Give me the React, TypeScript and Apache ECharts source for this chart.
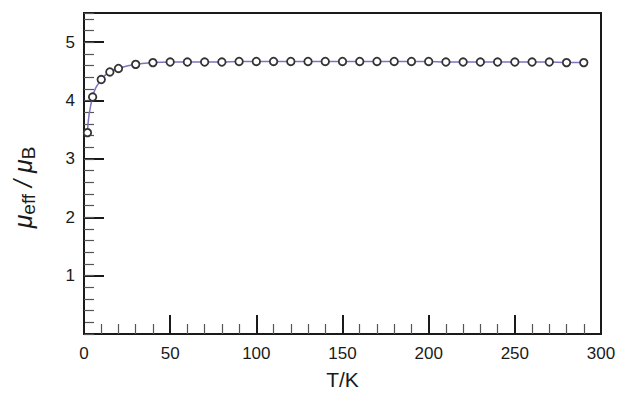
import React, { useEffect, useRef } from "react";
import * as echarts from "echarts";

const temps = [2, 5, 10, 15, 20, 30, 40, 50, 60, 70, 80, 90, 100, 110, 120, 130, 140, 150, 160, 170, 180, 190, 200, 210, 220, 230, 240, 250, 260, 270, 280, 290];
const muEff = [3.45, 4.06, 4.36, 4.49, 4.55, 4.62, 4.65, 4.66, 4.66, 4.66, 4.66, 4.67, 4.67, 4.67, 4.67, 4.67, 4.67, 4.67, 4.67, 4.67, 4.67, 4.67, 4.67, 4.66, 4.66, 4.66, 4.66, 4.66, 4.66, 4.66, 4.65, 4.65];
const yLabels = [1, 2, 3, 4, 5];

const FONT = "Liberation Sans, Arial, Helvetica, sans-serif";

export default function App() {
  const ref = useRef<HTMLDivElement>(null);
  useEffect(() => {
    if (!ref.current) return;
    const chart = echarts.init(ref.current, undefined, { renderer: "svg" });
    const data = temps.map((t, i) => [t, muEff[i]]);
    chart.setOption({
      animation: false,
      backgroundColor: "#fff",
      grid: {
        left: 83,
        right: 19,
        top: 13,
        bottom: 61,
        show: true,
        borderColor: "#1a1a1a",
        borderWidth: 2,
        backgroundColor: "transparent",
      },
      xAxis: {
        type: "value",
        min: 0,
        max: 300,
        interval: 50,
        name: "T/K",
        nameLocation: "middle",
        nameGap: 35,
        nameTextStyle: { fontSize: 21, color: "#1a1a1a", fontFamily: FONT },
        axisLine: { show: true, lineStyle: { color: "#1a1a1a", width: 2 } },
        axisTick: { show: true, inside: true, length: 19, lineStyle: { color: "#1a1a1a", width: 2 } },
        minorTick: { show: true, splitNumber: 5, length: 10, lineStyle: { color: "#555", width: 1.2 } },
        axisLabel: { fontSize: 17, color: "#1a1a1a", fontFamily: FONT, margin: 11 },
        splitLine: { show: false },
      },
      yAxis: [
        {
          type: "value",
          min: 0,
          max: 5.5,
          interval: 1,
          name: "{mu|μ}{sub|eff}{mu| / μ}{sub|B}",
          nameLocation: "middle",
          nameRotate: 90,
          nameGap: 46,
          nameTextStyle: {
            color: "#1a1a1a",
            fontFamily: FONT,
            padding: [0, 28, 0, 0],
            rich: {
              mu: { fontSize: 25, fontStyle: "italic", fontFamily: FONT, color: "#1a1a1a", lineHeight: 30 },
              sub: { fontSize: 19, fontFamily: FONT, color: "#1a1a1a", verticalAlign: "bottom", lineHeight: 30, padding: [11, 0, 0, 0] },
            },
          },
          axisLine: { show: true, lineStyle: { color: "#1a1a1a", width: 2 } },
          axisTick: { show: true, inside: true, length: 20, lineStyle: { color: "#1a1a1a", width: 2 } },
          axisLabel: {
            fontSize: 17,
            color: "#1a1a1a",
            fontFamily: FONT,
            margin: 9,
            formatter: (v: number) => (yLabels.indexOf(v) >= 0 ? String(v) : ""),
          },
          splitLine: { show: false },
        },
        {
          type: "value",
          position: "left",
          min: 0,
          max: 5.5,
          interval: 0.2,
          axisLine: { show: false },
          axisTick: { show: true, inside: true, length: 10, lineStyle: { color: "#555", width: 1.2 } },
          axisLabel: { show: false },
          splitLine: { show: false },
        },
      ],
      series: [
        {
          type: "line",
          data,
          yAxisIndex: 0,
          smooth: true,
          symbol: "circle",
          symbolSize: 7.5,
          lineStyle: { color: "#7c74bf", width: 1.5 },
          itemStyle: { color: "#fff", borderColor: "#333", borderWidth: 1.8 },
        },
      ],
    });
    return () => chart.dispose();
  }, []);
  return <div ref={ref} style={{ width: 620, height: 395, position: "absolute", left: 0, top: 0 }} />;
}
